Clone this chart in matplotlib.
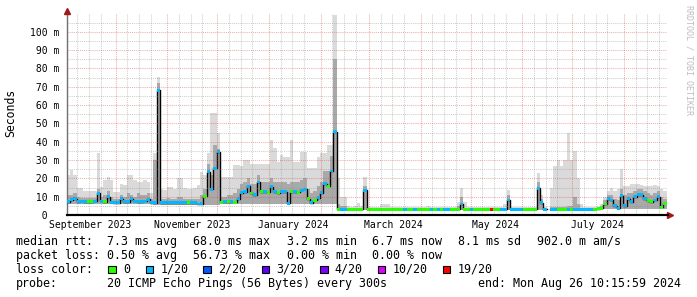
import numpy as np
import matplotlib
matplotlib.use("Agg")
import matplotlib.pyplot as plt
from matplotlib.lines import Line2D
from matplotlib.patches import Rectangle
from datetime import datetime

# ---------------- data (2-day bins, last 360 days) ----------------
start = datetime(2023, 9, 1, 10, 15, 59)
bin_days = 2

median_ms = ([7.3, 8.3, 9.0, 7.3, 7.4, 7.3, 7.2, 7.3, 7.4, 11.8,
              7.5, 7.3, 10.0, 7.0, 6.8, 6.8, 9.0, 7.2, 7.3, 9.0,
              7.4, 7.3, 7.3, 7.4, 8.5, 6.7, 6.7, 68.0, 6.7, 6.7,
              6.7, 6.7, 6.8, 6.7, 6.7, 6.7, 6.6, 6.7, 6.7, 6.0,
              6.2, 10.2, 23.5, 14.0, 25.5, 34.5, 7.0, 7.3, 7.2, 7.3,
              7.0, 9.0, 12.2, 12.7, 15.8, 12.0, 11.0, 18.0, 12.7, 12.7,
              12.5, 15.5, 12.7, 12.2, 12.7, 12.7, 6.4, 12.7, 12.7, 12.5,
              13.6, 14.0, 9.0, 6.7, 8.0, 9.5, 12.2, 17.0, 15.8, 24.0,
              45.5, 3.1, 3.2, 3.2, 3.2, 3.2, 3.2, 3.2, 3.2, 13.6]
             + [3.2] * 28 + [6.0, 3.2]
             + [3.2] * 12 + [8.2] + [3.2] * 8 + [14.5, 6.7, 3.2, np.nan]
             + [3.1] * 13 + [3.2, 3.3]
             + [3.8, 6.0, 9.0, 8.2, 5.0, 3.6, 10.4, 5.0, 9.0, 7.3,
                10.0, 11.0, 11.0, 9.0, 7.8, 7.3, 8.2, 10.0, 4.2, 6.4])

smoke_max = ([21.8, 24.5, 21.6, 15.0, 14.7, 13.0, 13.0, 13.0, 13.0, 33.8,
              15.5, 19.0, 21.0, 19.0, 12.7, 12.7, 17.0, 16.4, 21.8, 21.8,
              19.0, 18.0, 18.0, 19.0, 18.0, 11.8, 33.6, 75.5, 14.0, 13.6,
              15.5, 15.5, 14.0, 20.0, 20.0, 14.5, 14.0, 14.0, 15.0, 16.4,
              23.6, 21.8, 33.6, 55.5, 55.5, 45.0, 21.0, 21.0, 21.0, 21.0,
              27.5, 27.5, 27.0, 30.0, 30.0, 28.0, 28.0, 28.0, 28.0, 28.0,
              28.0, 41.0, 36.4, 29.0, 32.7, 31.8, 31.8, 41.0, 29.0, 29.0,
              34.5, 34.5, 25.5, 25.5, 25.5, 31.8, 33.6, 33.6, 38.0, 38.0,
              109.0, 20.0, 10.0, 10.0, 5.0, 4.5, 5.0, 6.7, 5.0, 21.0,
              4.3, 4.3, 4.5, 4.3, 6.0, 6.0, 6.0, 4.3, 4.3, 4.5,
              4.3, 4.3, 4.3, 4.5, 4.3, 4.3, 4.3, 4.3, 5.0, 4.3,
              4.3, 4.3, 4.5, 4.3, 4.3, 4.3, 4.3, 7.0, 14.5, 7.0,
              4.3, 4.3, 4.5, 4.3, 4.3, 4.3, 4.3, 4.5, 4.3, 4.3,
              4.3, 6.0, 13.6, 4.5, 4.3, 4.3, 4.3, 4.3, 4.5, 4.3,
              4.5, 22.7, 11.0, 4.5, np.nan, 14.5, 27.0, 30.0, 27.0, 30.0,
              45.0, 30.0, 35.0, 20.0, 6.0, 4.5, 4.5, 4.5, 4.5, 4.5,
              6.0, 10.0, 13.0, 15.0, 13.0, 14.0, 25.0, 16.0, 16.0, 17.0,
              17.0, 17.0, 16.4, 16.0, 16.0, 16.0, 16.4, 16.0, 14.0, 13.0])

smoke_mid = ([11, 11, 12, 10, 9.5, 9.5, 9.5, 9.5, 9.5, 14,
              10, 11, 13, 10, 9, 9, 11, 10, 12, 11,
              10, 12, 11, 11, 12, 9, 30, 72, 9, 9,
              9.5, 9, 9, 10, 10, 9, 9, 9, 9, 9,
              11, 14, 28, 22, 38, 36, 10, 10, 11, 11,
              12, 14, 17, 18, 20, 17, 17, 22, 18, 18,
              18, 20, 18, 18, 18, 18, 17, 18, 18, 18,
              19, 20, 14, 12, 13, 16, 18, 24, 24, 32,
              85, 6, 5, 5, 3.6, 3.6, 3.6, 3.6, 3.6, 16]
             + [3.6] * 27 + [5, 10, 4]
             + [3.6] * 11 + [4, 11] + [3.6] * 8 + [18, 9, 3.6, np.nan]
             + [4.5] * 5 + [5, 5, 10, 6] + [3.6] * 6
             + [5, 8, 11, 11, 9, 8, 14, 11, 12, 12,
                13, 14, 14, 13, 12, 11, 12, 13, 10, 9])

smoke_min = [6.0] * 26 + [5.5] * 20 + [6.0] * 35 + [2.9] * 79 + [3.2] * 20

# loss per bin: 0 -> 0, 1 -> 1/20, 2 -> 2/20, 3 -> 3/20, 4 -> 4/20, 5 -> 10/20, 6 -> 19/20
loss_code = ("111111" "00" "111" "0" + "1" * 24 + "0" "1111" "0" "1111"
             "0" "1" "0" "1" "0" "1111" "0" "11" "0" "1" "0" "11" "0" "111"
             "0" "1" "0" "11" "0" "1" "0" "111" "0" "11" "0" "11" "00000" "1"
             + "0" * 11 + "1" "00" "1" "0000" "1" "0" "1" "0" "11" "000" "1"
             "00" "1" "00000" "6" "00" "1111111" "0000" "111" "1" "11" "000"
             "1" "0" "111111" "0000" + "1" * 12 + "00" "11" "00")

loss_labels = ["0", "1/20", "2/20", "3/20", "4/20", "10/20", "19/20"]
loss_colors = ["#26ff00", "#00b8ff", "#0059ff", "#5e00ff", "#7e00ff", "#dd00ff", "#ff0000"]

y_ticks = [0, 10, 20, 30, 40, 50, 60, 70, 80, 90, 100]
y_tick_labels = ["  0  ", " 10 m", " 20 m", " 30 m", " 40 m", " 50 m",
                 " 60 m", " 70 m", " 80 m", " 90 m", "100 m"]
x_label_months = [(2023, 9, "September 2023"), (2023, 11, "November 2023"),
                  (2024, 1, "January 2024"), (2024, 3, "March 2024"),
                  (2024, 5, "May 2024"), (2024, 7, "July 2024")]

legend_rows = [
    [(16, "median rtt:"), (107.3, "7.3 ms avg"), (193.3, "68.0 ms max"),
     (286.7, "3.2 ms min"), (372.3, "6.7 ms now"), (458.3, "8.1 ms sd"),
     (536.7, "902.0 m am/s")],
    [(16, "packet loss:"), (107.3, "0.50 % avg"), (193.3, "56.73 % max"),
     (286.7, "0.00 % min"), (372.3, "0.00 % now")],
]
probe_text = "20 ICMP Echo Pings (56 Bytes) every 300s"
end_text = "end: Mon Aug 26 10:15:59 2024"

# ---------------- figure ----------------
MONO = "DejaVu Sans Mono"
W, H = 697, 297
fig = plt.figure(figsize=(W / 100, H / 100), dpi=100)
fig.patch.set_facecolor("white")
L, R, B, T = 66.5, 666.5, 215.0, 13.0
ax = fig.add_axes([L / W, 1 - B / H, (R - L) / W, (B - T) / H])
ax.set_facecolor("white")

n = len(median_ms)
med = np.array(median_ms, dtype=float)
smax = np.array(smoke_max, dtype=float)
smid = np.array(smoke_mid, dtype=float)
smin = np.array(smoke_min, dtype=float)
edges = np.arange(n + 1) * bin_days
left = edges[:-1]

ax.bar(left, smax - smin, bottom=smin, width=bin_days, align="edge",
       color="#dadada", linewidth=0, antialiased=False, zorder=1)
ax.bar(left, smid - smin, bottom=smin, width=bin_days, align="edge",
       color="#a9a9a9", linewidth=0, antialiased=False, zorder=1.5)
ax.step(edges, np.append(med, med[-1]), where="post", color="black",
        lw=1.0, zorder=3)
cols = [loss_colors[int(c)] for c in loss_code]
ax.bar(left, 1.6, bottom=med - 0.8, width=bin_days, align="edge",
       color=cols, linewidth=0, antialiased=False, zorder=4)

total_days = 360
ax.set_xlim(0, total_days)
ax.set_ylim(0, 110.2)


def day_of(dt):
    return (dt - start).total_seconds() / 86400.0


# grid
grid_minor = (0.55, 0.55, 0.55, 0.42)
grid_major = (0.85, 0.25, 0.25, 0.42)
for v in range(5, 111, 10):
    ax.axhline(v, color=grid_minor, lw=0.75, ls=(0, (1, 1)), zorder=5)
for v in range(10, 101, 10):
    ax.axhline(v, color=grid_major, lw=0.75, ls=(0, (1, 1)), zorder=5)
y, m = 2023, 9
while True:
    for d in (8, 15, 22):
        xd = day_of(datetime(y, m, d))
        if 0 < xd < total_days:
            ax.axvline(xd, color=grid_minor, lw=0.75, ls=(0, (1, 1)), zorder=5)
    m += 1
    if m > 12:
        m, y = 1, y + 1
    xd = day_of(datetime(y, m, 1))
    if xd >= total_days:
        break
    ax.axvline(xd, color=grid_major, lw=0.75, ls=(0, (1, 1)), zorder=5)

# axes / ticks
for s in ("top", "right"):
    ax.spines[s].set_visible(False)
ax.spines["left"].set_color("#707070")
ax.spines["left"].set_linewidth(1.0)
ax.spines["bottom"].set_color("black")
ax.spines["bottom"].set_linewidth(1.5)
ax.spines["bottom"].set_zorder(6)

ax.set_yticks(y_ticks)
ax.set_yticklabels(y_tick_labels, fontfamily=MONO, fontsize=7)
ax.tick_params(axis="y", length=0, pad=5.2)
xt = [day_of(datetime(yy, mm, 15, 18)) for yy, mm, _ in x_label_months]
ax.set_xticks(xt)
ax.set_xticklabels([t for _, _, t in x_label_months], fontfamily=MONO, fontsize=7)
ax.tick_params(axis="x", length=0, pad=3.5)

# arrows
arrow_c = "#a01818"
fig.add_artist(Line2D([66.8 / W], [1 - 10.5 / H], marker="^", markersize=4.2,
                      color=arrow_c, transform=fig.transFigure))
fig.add_artist(Line2D([669.5 / W], [1 - 215 / H], marker=">", markersize=4.2,
                      color=arrow_c, transform=fig.transFigure))
fig.add_artist(Line2D([L / W, 668 / W], [1 - 215 / H, 1 - 215 / H], lw=1.5,
                      color="black", transform=fig.transFigure))

# axis title & watermark
fig.text(11 / W, 1 - 113 / H, "Seconds", rotation=90, ha="center", va="center",
         fontfamily=MONO, fontsize=8.3)
fig.text(688.5 / W, 1 - 60 / H, "RRDTOOL / TOBI OETIKER", rotation=270,
         ha="center", va="center", fontfamily=MONO, fontsize=6, color="#bdbdbd")

# legend
FS = 8.35
row_y = [241.5, 255.3, 269.2, 283.0]
for r, items in enumerate(legend_rows):
    for xp, txt in items:
        fig.text(xp / W, 1 - row_y[r] / H, txt, ha="left", va="center",
                 fontfamily=MONO, fontsize=FS)
fig.text(16 / W, 1 - row_y[2] / H, "loss color:", ha="left", va="center",
         fontfamily=MONO, fontsize=FS)
box_x = [108.3, 145.7, 203.3, 261.7, 320.0, 377.7, 442.7]
for bx, lab, col in zip(box_x, loss_labels, loss_colors):
    fig.add_artist(Rectangle((bx / W, 1 - 273.3 / H), 7.5 / W, 7.8 / H,
                             facecolor=col, edgecolor="black", lw=0.8,
                             transform=fig.transFigure))
    fig.text((bx + 14.5) / W, 1 - row_y[2] / H, lab, ha="left", va="center",
             fontfamily=MONO, fontsize=FS)
fig.text(16 / W, 1 - row_y[3] / H, "probe:", ha="left", va="center",
         fontfamily=MONO, fontsize=FS)
fig.text(107.3 / W, 1 - row_y[3] / H, probe_text, ha="left", va="center",
         fontfamily=MONO, fontsize=FS)
fig.text(478.3 / W, 1 - row_y[3] / H, end_text, ha="left", va="center",
         fontfamily=MONO, fontsize=FS)

fig.savefig("out.png", dpi=100, facecolor="white")
